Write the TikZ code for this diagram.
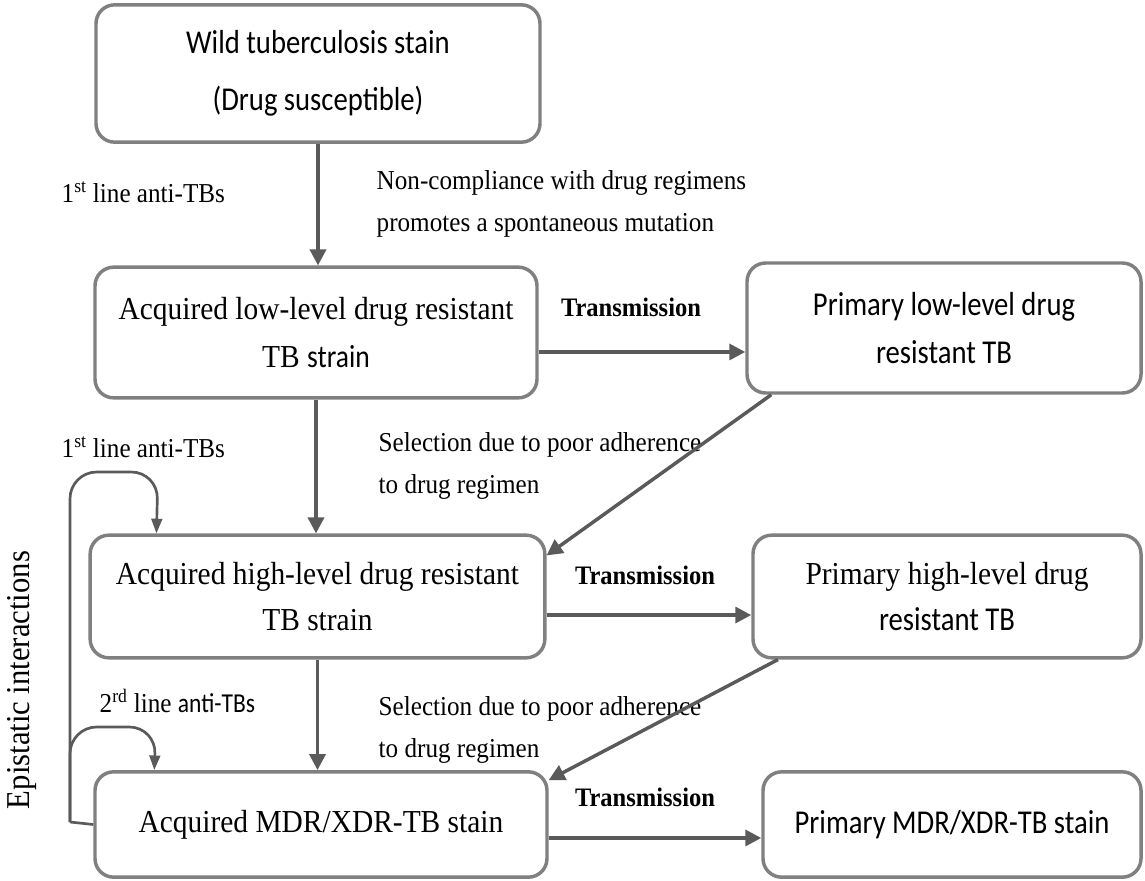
\documentclass[tikz,border=0pt]{standalone}
\usepackage{fontspec}
\setmainfont[FakeStretch=0.92]{Liberation Serif}
\newfontfamily\calib[FakeStretch=0.86]{Carlito}
\usetikzlibrary{arrows.meta}
\definecolor{boxgray}{HTML}{808080}
\definecolor{arrowgray}{HTML}{5A5A5A}

\begin{document}
\begin{tikzpicture}[x=0.75pt,y=-0.75pt,
  stage/.style={draw=boxgray, line width=2.6pt, rounded corners=14pt, align=center, inner sep=0pt},
  flow/.style={draw=arrowgray, line width=2.6pt, -{Triangle[length=12pt,width=12pt]}},
  loopflow/.style={draw=arrowgray, line width=2pt, rounded corners=20pt, -{Triangle[length=11pt,width=8pt]}},
  note/.style={anchor=west, align=left, font=\fontsize{20.5}{31}\selectfont},
  trans/.style={font=\fontsize{20}{24}\selectfont\bfseries}]
\useasboundingbox (0,0) rectangle (1145,881);

% boxes
\node[stage, minimum width=333pt, minimum height=103pt, font=\calib\fontsize{25}{43}\selectfont] (wild) at (318,73.5) {Wild tuberculosis stain\\(Drug susceptible)};
\node[stage, minimum width=331.5pt, minimum height=98pt, font=\fontsize{24}{36}\selectfont] (acqlow) at (316,332.5) {Acquired low-level drug resistant\\TB {\calib strain}};
\node[stage, minimum width=295.5pt, minimum height=97.5pt, font=\calib\fontsize{25}{36}\selectfont] (primlow) at (944,328) {Primary low-level drug\\resistant TB};
\node[stage, minimum width=341pt, minimum height=92pt, font=\fontsize{24}{35}\selectfont] (acqhigh) at (317.5,596.5) {Acquired high-level drug resistant\\TB strain};
\node[stage, minimum width=291pt, minimum height=92pt, font=\fontsize{24}{35}\selectfont] (primhigh) at (947,596.5) {Primary high-level drug\\{\calib\fontsize{25}{35}\selectfont resistant TB}};
\node[stage, minimum width=339pt, minimum height=79pt, font=\fontsize{24}{35}\selectfont] (acqmdr) at (321,824.5) {Acquired MDR/XDR-TB stain};
\node[stage, minimum width=283.5pt, minimum height=79pt, font=\calib\fontsize{25}{35}\selectfont] (primmdr) at (952,824.5) {Primary MDR/XDR-TB stain};

% labels
\node[note] (first1) at (57,192) {1\textsuperscript{st} line anti-TBs};
\node[note] (mutation) at (372,204) {Non-compliance with drug regimens\\promotes a spontaneous mutation};
\node[trans] (trans1) at (631,307) {Transmission};
\node[note] (first2) at (57,447) {1\textsuperscript{st} line anti-TBs};
\node[note] (select1) at (374,466) {Selection due to poor adherence\\to drug regimen};
\node[trans] (trans2) at (645,575) {Transmission};
\node[note] (second) at (95,701) {2\textsuperscript{rd} line {\calib anti-TBs}};
\node[note] (select2) at (374,730) {Selection due to poor adherence\\to drug regimen};
\node[trans] (trans3) at (645,797) {Transmission};
\node[rotate=90, font=\fontsize{25}{30}\selectfont] (epi) at (22,680) {Epistatic interactions};

% vertical arrows
\draw[flow] (wild.south) -- (wild.south |- acqlow.north);
\draw[flow] (acqlow.south) -- (acqlow.south |- acqhigh.north);
\draw[flow] (acqhigh.south) -- (acqhigh.south |- acqmdr.north);
% transmission arrows
\draw[flow] ([yshift=-14.6pt]acqlow.east) -- ([yshift=-14.6pt]acqlow.east -| primlow.west);
\draw[flow] ([yshift=-13.9pt]acqhigh.east) -- ([yshift=-13.9pt]acqhigh.east -| primhigh.west);
\draw[flow] ([yshift=-10.1pt]acqmdr.east) -- ([yshift=-10.1pt]acqmdr.east -| primmdr.west);
\draw[flow] ([xshift=19.5pt]primlow.south west) -- ([yshift=-16.5pt]acqhigh.north east);
\draw[flow] ([xshift=20pt]primhigh.south west) -- ([yshift=-7.5pt]acqmdr.north east);

% epistatic loops
\coordinate (loopfoot) at (70,822);
\draw[draw=arrowgray, line width=2pt] (acqmdr.west) -- (loopfoot);
\draw[loopflow] (loopfoot) -- (70,472) -- (158,472) -- ([xshift=51pt]acqhigh.north west);
\draw[loopflow] (loopfoot) -- (70,727) -- (156,727) -- ([xshift=45.75pt]acqmdr.north west);
\end{tikzpicture}
\end{document}
